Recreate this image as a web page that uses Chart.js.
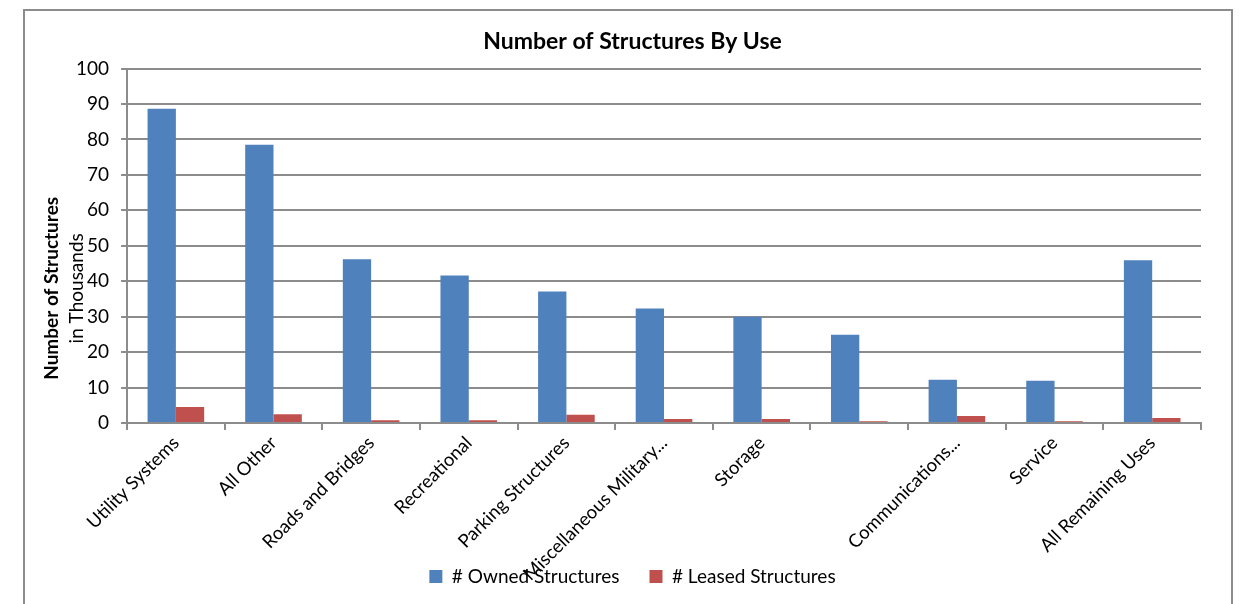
<!DOCTYPE html>
<html>
<head>
<meta charset="utf-8">
<script src="https://cdn.jsdelivr.net/npm/chart.js@4.4.1/dist/chart.umd.min.js"></script>
<style>
  html, body { margin: 0; padding: 0; background: #fff; }
  #wrap { position: relative; width: 1239px; height: 604px; overflow: hidden; }
  #frame { position: absolute; left: 23px; top: 9px; width: 1206px; height: 640px; border: 2px solid #8c8c8c; }
  #my-Chart { position: absolute; left: 0; top: 0; }
</style>
</head>
<body>
<div id="wrap">
  <div id="frame"></div>
  <canvas id="my-Chart" width="1239" height="604"></canvas>
</div>
<script>
// Categorias e valores (em milhares)
const categories = [
    'Utility Systems', 'All Other', 'Roads and Bridges', 'Recreational',
    'Parking Structures', 'Miscellaneous Military...', 'Storage', '',
    'Communications...', 'Service', 'All Remaining Uses'
];
const ownedStructures = [88.7, 78.5, 46.2, 41.6, 37.1, 32.3, 30.0, 24.9, 12.2, 11.9, 45.9];
const leasedStructures = [4.5, 2.5, 0.8, 0.8, 2.3, 1.1, 1.1, 0.5, 2.0, 0.5, 1.4];
const yAxisTitle = ['Number of Structures', 'in Thousands'];

const gridColor = '#8c8c8c';
const fontFamily = 'Lato, "Open Sans", sans-serif';

// Plugin para o título do eixo Y em duas linhas (negrito + normal)
const yTitlePlugin = {
    id: 'yTitle',
    afterLayout(chart) {
        // deixa os rótulos do eixo X passarem por baixo da legenda (sem recorte)
        chart.scales.x.bottom = chart.height;
    },
    afterDraw(chart) {
        const { ctx, chartArea } = chart;
        const cy = chartArea.top + (chartArea.bottom - chartArea.top) * 0.62;
        ctx.save();
        ctx.fillStyle = '#000';
        ctx.textAlign = 'center';
        ctx.textBaseline = 'middle';

        ctx.save();
        ctx.translate(chartArea.left - 75, cy);
        ctx.rotate(-Math.PI / 2);
        ctx.font = 'bold 19px ' + fontFamily;
        ctx.fillText(yAxisTitle[0], 0, 0);
        ctx.restore();

        ctx.save();
        ctx.translate(chartArea.left - 50, cy);
        ctx.rotate(-Math.PI / 2);
        ctx.font = '19px ' + fontFamily;
        ctx.fillText(yAxisTitle[1], 0, 0);
        ctx.restore();

        ctx.restore();
    }
};

Chart.defaults.font.family = fontFamily;
Chart.defaults.color = '#000';

const ctx = document.querySelector('#my-Chart');
const myChart = new Chart(ctx, {
    type: 'bar',
    data: {
        labels: categories,
        datasets: [
            {
                label: '# Owned Structures',
                data: ownedStructures,
                backgroundColor: '#4F81BD',
                barPercentage: 1,
                categoryPercentage: 0.58
            },
            {
                label: '# Leased Structures',
                data: leasedStructures,
                backgroundColor: '#C0504D',
                barPercentage: 1,
                categoryPercentage: 0.58
            }
        ]
    },
    options: {
        responsive: false,
        animation: false,
        layout: {
            padding: { left: 64, right: 38, top: 0, bottom: 8 }
        },
        plugins: {
            title: {
                display: true,
                text: 'Number of Structures By Use',
                font: { size: 23, weight: 'bold' },
                color: '#000',
                padding: { top: 28, bottom: 13 }
            },
            legend: {
                position: 'bottom',
                labels: {
                    boxWidth: 13,
                    boxHeight: 13,
                    padding: 30,
                    font: { size: 19 }
                }
            },
            tooltip: { enabled: false }
        },
        scales: {
            x: {
                // altura fixa: a legenda sobrepõe os rótulos, como no original
                afterFit: (scale) => { scale.height = 114; },
                grid: {
                    display: true,
                    drawOnChartArea: false,
                    drawTicks: true,
                    tickLength: 7,
                    color: gridColor,
                    lineWidth: 2
                },
                border: { color: gridColor, width: 2 },
                ticks: {
                    autoSkip: false,
                    maxRotation: 45,
                    minRotation: 45,
                    padding: 2,
                    font: { size: 18.5 }
                }
            },
            y: {
                min: 0,
                max: 100,
                grid: {
                    color: gridColor,
                    lineWidth: 2,
                    tickLength: 6
                },
                border: { color: gridColor, width: 2 },
                ticks: {
                    stepSize: 10,
                    padding: 12,
                    font: { size: 19 }
                }
            }
        }
    },
    plugins: [yTitlePlugin]
});
</script>
</body>
</html>
